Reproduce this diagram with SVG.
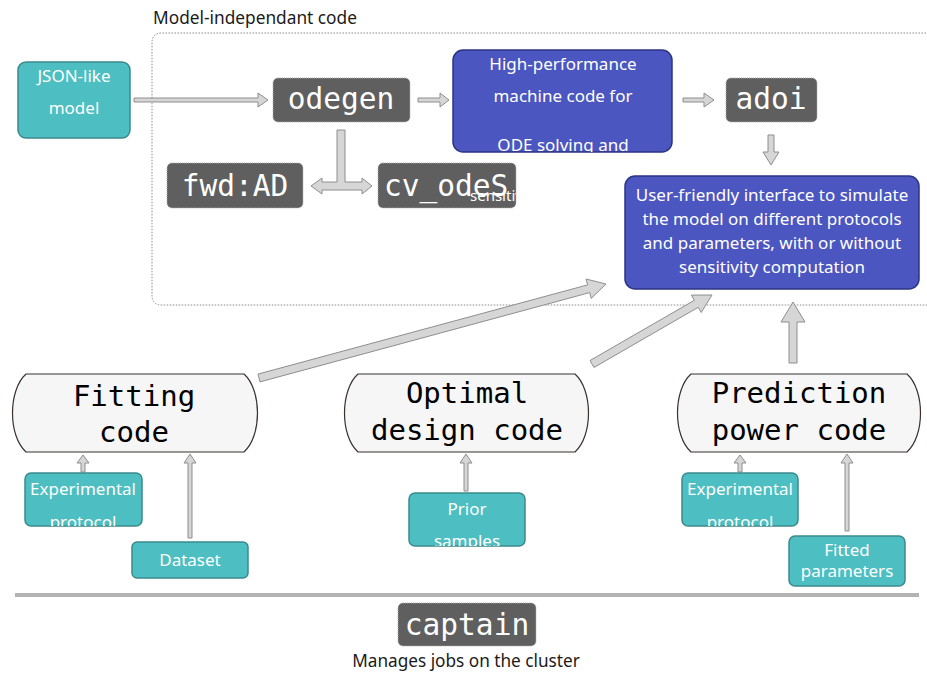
<svg xmlns="http://www.w3.org/2000/svg" width="927" height="675" viewBox="0 0 927 675">
<defs>
<style>
.sans{font-family:"Noto Sans","Liberation Sans",sans-serif;}
.mono{font-family:"DejaVu Sans Mono","Liberation Mono",monospace;}
.teal{fill:#4dbec1;stroke:#3b8a8c;stroke-width:1.5;}
.blue{fill:#4b56c0;stroke:#2c3583;stroke-width:1.5;}
.dark{fill:#5f5f5f;stroke:#b0b0b0;stroke-width:1;stroke-dasharray:1 1;}
.pill{fill:#f6f6f6;stroke:#3a3030;stroke-width:1.2;}
.wt{fill:#ffffff;font-size:17px;text-anchor:middle;}
.mw{fill:#ffffff;font-size:29.5px;text-anchor:middle;}
.mb{fill:#000000;font-size:29px;text-anchor:middle;}
.arr{fill:#d6d6d6;stroke:#8e8e8e;stroke-width:1;}
</style>
<clipPath id="cpL"><rect x="25" y="473" width="117" height="53" rx="6"/></clipPath>
<clipPath id="cpR"><rect x="682" y="473" width="116" height="53" rx="6"/></clipPath>
<clipPath id="cpP"><rect x="409" y="493" width="116" height="53" rx="6"/></clipPath>
<clipPath id="cpHP"><rect x="453" y="50" width="219" height="102" rx="10"/></clipPath>
<clipPath id="cpCV"><rect x="378" y="163" width="138" height="45" rx="5"/></clipPath>
</defs>
<rect width="927" height="675" fill="#ffffff"/>

<g id="container">
<text class="sans" x="153" y="24" font-size="17.3" fill="#1a1a1a">Model-independant code</text>
<path d="M 935 33 H 162 Q 152 33 152 43 V 295 Q 152 305 162 305 H 935" fill="none" stroke="#8a8a8a" stroke-width="1" stroke-dasharray="1.5 1.5"/>
</g>

<g id="connectors">
<polygon class="arr" points="134,98 258,98 258,93 268,100 258,107 258,102 134,102"/>
<polygon class="arr" points="418,98 440,98 440,93 449,100 440,107 440,102 418,102"/>
<polygon class="arr" points="683,98 704,98 704,93 714,100 704,107 704,102 683,102"/>
<polygon class="arr" points="768,135 774,135 774,152 779,152 771,165 763,152 768,152"/>
<polygon class="arr" points="337,130 345,130 345,182 362,182 362,178 372,186 362,194 362,190 322,190 322,194 311,186 322,178 322,182 337,182"/>
<polygon class="arr" points="258.0,374.1 587.6,284.9 586.0,279.0 606,284 591.2,298.4 589.7,292.6 260.0,381.9"/>
<polygon class="arr" points="590.05,360.5 694.35,300.3 691.4,295.1 712,295 701.2,312.5 698.25,307.3 593.95,367.5"/>
<polygon class="arr" points="789,363 789,322 781,322 793,302 805,322 797,322 797,363"/>
<polygon class="arr" points="81,472 85,472 85,463 89,463 83,455 77,463 81,463"/>
<polygon class="arr" points="188,538 192,538 192,463 196,463 190,454 184,463 188,463"/>
<polygon class="arr" points="464,491 468,491 468,463 472,463 466,454 460,463 464,463"/>
<polygon class="arr" points="738,472 742,472 742,463 746,463 740,455 734,463 738,463"/>
<polygon class="arr" points="845,531 849,531 849,463 853,463 847,454 841,463 845,463"/>
</g>

<g id="json">
<rect class="teal" x="18" y="62" width="112" height="76" rx="8"/>
<text class="sans wt" x="74" y="82" font-size="18.5">JSON-like</text>
<text class="sans wt" x="74" y="114" font-size="18.5">model</text>
</g>

<g id="odegen">
<rect class="dark" x="273" y="78" width="137" height="44" rx="5"/>
<text class="mono mw" x="341" y="109">odegen</text>
</g>

<g id="hpcode">
<rect class="blue" x="453" y="50" width="219" height="102" rx="10"/>
<g clip-path="url(#cpHP)">
<text class="sans wt" x="563" y="70">High-performance</text>
<text class="sans wt" x="563" y="102">machine code for</text>
<text class="sans wt" x="563" y="151">ODE solving and</text>
</g>
</g>

<g id="adoi">
<rect class="dark" x="726" y="78" width="91" height="44" rx="5"/>
<text class="mono mw" x="771" y="109">adoi</text>
</g>

<g id="interface">
<rect class="blue" x="625" y="176" width="294" height="113" rx="10"/>
<text class="sans wt" x="772" y="201" font-size="17.3">User-friendly interface to simulate</text>
<text class="sans wt" x="772" y="225" font-size="17.3">the model on different protocols</text>
<text class="sans wt" x="772" y="249" font-size="17.3">and parameters, with or without</text>
<text class="sans wt" x="772" y="273" font-size="17.3">sensitivity computation</text>
</g>

<g id="fwdad">
<rect class="dark" x="167" y="163" width="136" height="45" rx="5"/>
<text class="mono mw" x="235" y="196">fwd:AD</text>
</g>

<g id="cvode">
<rect class="dark" x="378" y="163" width="138" height="45" rx="5"/>
<g clip-path="url(#cpCV)">
<text class="mono" x="384" y="196" font-size="29.5" fill="#ffffff">cv_odeS</text>
<text class="sans" x="470" y="201" font-size="15" fill="#ffffff">sensitivity</text>
</g>
</g>

<g id="fitting">
<path class="pill" d="M 26 374 H 244 C 262 390 262 436 244 452 H 26 C 8 436 8 390 26 374 Z"/>
<text class="mono mb" x="134" y="406">Fitting</text>
<text class="mono mb" x="134" y="442">code</text>
</g>

<g id="optimal">
<path class="pill" d="M 358 374 H 575 C 593 390 593 436 575 452 H 358 C 340 436 340 390 358 374 Z"/>
<text class="mono mb" x="467" y="403">Optimal</text>
<text class="mono mb" x="467" y="440">design code</text>
</g>

<g id="prediction">
<path class="pill" d="M 691 374 H 907 C 925 390 925 436 907 452 H 691 C 673 436 673 390 691 374 Z"/>
<text class="mono mb" x="799" y="403">Prediction</text>
<text class="mono mb" x="799" y="440">power code</text>
</g>

<g id="expL">
<rect class="teal" x="25" y="473" width="117" height="53" rx="6"/>
<g clip-path="url(#cpL)">
<text class="sans wt" x="83" y="495" font-size="17.8">Experimental</text>
<text class="sans wt" x="83" y="528" font-size="17.8">protocol</text>
</g>
</g>

<g id="dataset">
<rect class="teal" x="132" y="542" width="116" height="36" rx="5"/>
<text class="sans wt" x="190" y="566" font-size="17.8">Dataset</text>
</g>

<g id="prior">
<rect class="teal" x="409" y="493" width="116" height="53" rx="6"/>
<g clip-path="url(#cpP)">
<text class="sans wt" x="467" y="515" font-size="17.8">Prior</text>
<text class="sans wt" x="467" y="547" font-size="17.8">samples</text>
</g>
</g>

<g id="expR">
<rect class="teal" x="682" y="473" width="116" height="53" rx="6"/>
<g clip-path="url(#cpR)">
<text class="sans wt" x="740" y="495" font-size="17.8">Experimental</text>
<text class="sans wt" x="740" y="528" font-size="17.8">protocol</text>
</g>
</g>

<g id="fitted">
<rect class="teal" x="789" y="536" width="116" height="50" rx="6"/>
<text class="sans wt" x="847" y="556" font-size="17.8">Fitted</text>
<text class="sans wt" x="847" y="577" font-size="17.8">parameters</text>
</g>

<g id="separator">
<line x1="15" y1="595" x2="919" y2="595" stroke="#b3b3b3" stroke-width="4"/>
</g>

<g id="captain">
<rect class="dark" x="398" y="603" width="138" height="43" rx="5"/>
<text class="mono mw" x="467" y="635">captain</text>
<text class="sans" x="466" y="667" font-size="17.2" fill="#1a1a1a" text-anchor="middle">Manages jobs on the cluster</text>
</g>
</svg>
